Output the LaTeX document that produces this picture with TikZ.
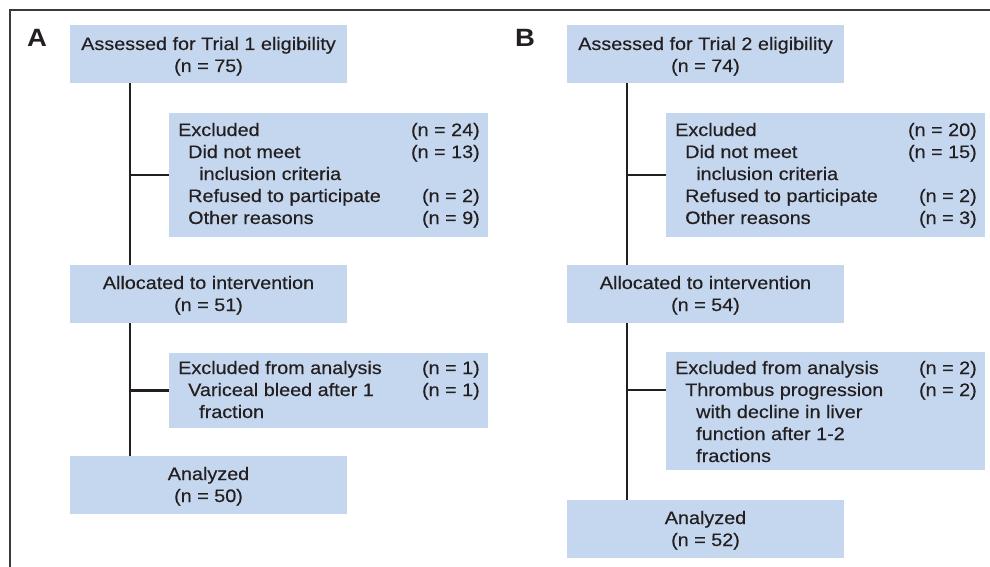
\documentclass[tikz,border=0pt]{standalone}
\usepackage{fontspec}
\setmainfont{Liberation Sans}[FakeStretch=1.1, UprightFeatures={FakeBold=0.4}]
\definecolor{boxfill}{HTML}{C5D7EE}
\definecolor{ink}{HTML}{231F20}
\definecolor{framecol}{HTML}{3A3A3A}
\begin{document}
\begin{tikzpicture}[x=1pt,y=-1pt,
  flowbox/.style={fill=boxfill, draw=none, inner sep=0pt, outer sep=0pt, anchor=north west, rectangle},
  txt/.style={text=ink, inner sep=0pt, font=\fontsize{18}{22}\selectfont},
  panellabel/.style={text=ink, inner sep=0pt, anchor=base west, font=\fontsize{25}{25}\selectfont\bfseries},
  trunkline/.style={draw=ink, line width=2.8pt},
  framestyle/.style={draw=framecol, line width=1.5pt}]
\useasboundingbox (0,0) rectangle (990,567);
\draw[framestyle] (10,567) -- (10,10) -- (990,10);

% ---------------- Panel A ----------------
\node[panellabel] (labA) at (27,47) {A};
\coordinate (tA) at (130,0);
\node[flowbox, minimum width=277pt, minimum height=58pt] (a1) at (70,25) {};
\node[flowbox, minimum width=319pt, minimum height=124pt] (a2) at (169,113) {};
\node[flowbox, minimum width=277pt, minimum height=58pt] (a3) at (70,265) {};
\node[flowbox, minimum width=319pt, minimum height=75pt] (a4) at (169,353) {};
\node[flowbox, minimum width=277pt, minimum height=58pt] (a5) at (70,456) {};

\draw[trunkline] (a1.south -| tA) -- (a3.north -| tA);
\draw[trunkline] (a3.south -| tA) -- (a5.north -| tA);
\draw[trunkline] (a2.west -| tA) -- (a2.west);
\draw[trunkline] (a4.west -| tA) -- (a4.west);

\node[txt, anchor=base] (a1l1) at (208.5,50) {Assessed for Trial 1 eligibility};
\node[txt, anchor=base] (a1l2) at (208.5,72) {(n = 75)};

\node[txt, anchor=base west] (a2l1) at (178,136) {Excluded};
\node[txt, anchor=base west] (a2l2) at (188,158) {Did not meet};
\node[txt, anchor=base west] (a2l3) at (199,180) {inclusion criteria};
\node[txt, anchor=base west] (a2l4) at (188,202) {Refused to participate};
\node[txt, anchor=base west] (a2l5) at (188,224) {Other reasons};
\node[txt, anchor=base east] (a2r1) at (480,136) {(n = 24)};
\node[txt, anchor=base east] (a2r2) at (480,158) {(n = 13)};
\node[txt, anchor=base east] (a2r4) at (480,202) {(n = 2)};
\node[txt, anchor=base east] (a2r5) at (480,224) {(n = 9)};

\node[txt, anchor=base] (a3l1) at (208.5,289) {Allocated to intervention};
\node[txt, anchor=base] (a3l2) at (208.5,311) {(n = 51)};

\node[txt, anchor=base west] (a4l1) at (178,374) {Excluded from analysis};
\node[txt, anchor=base west] (a4l2) at (188,396) {Variceal bleed after 1};
\node[txt, anchor=base west] (a4l3) at (199,418) {fraction};
\node[txt, anchor=base east] (a4r1) at (480,374) {(n = 1)};
\node[txt, anchor=base east] (a4r2) at (480,396) {(n = 1)};

\node[txt, anchor=base] (a5l1) at (208.5,480) {Analyzed};
\node[txt, anchor=base] (a5l2) at (208.5,502) {(n = 50)};

% ---------------- Panel B ----------------
\node[panellabel] (labB) at (515,47) {B};
\coordinate (tB) at (627,0);
\node[flowbox, minimum width=277pt, minimum height=58pt] (b1) at (567,25) {};
\node[flowbox, minimum width=319pt, minimum height=124pt] (b2) at (666,113) {};
\node[flowbox, minimum width=277pt, minimum height=58pt] (b3) at (567,265) {};
\node[flowbox, minimum width=319pt, minimum height=118pt] (b4) at (666,352) {};
\node[flowbox, minimum width=277pt, minimum height=58pt] (b5) at (567,500) {};
\coordinate (bj) at (627,390);

\draw[trunkline] (b1.south -| tB) -- (b3.north -| tB);
\draw[trunkline] (b3.south -| tB) -- (b5.north -| tB);
\draw[trunkline] (b2.west -| tB) -- (b2.west);
\draw[trunkline] (bj) -- (bj -| b4.west);

\node[txt, anchor=base] (b1l1) at (705.5,50) {Assessed for Trial 2 eligibility};
\node[txt, anchor=base] (b1l2) at (705.5,72) {(n = 74)};

\node[txt, anchor=base west] (b2l1) at (675,136) {Excluded};
\node[txt, anchor=base west] (b2l2) at (685,158) {Did not meet};
\node[txt, anchor=base west] (b2l3) at (696,180) {inclusion criteria};
\node[txt, anchor=base west] (b2l4) at (685,202) {Refused to participate};
\node[txt, anchor=base west] (b2l5) at (685,224) {Other reasons};
\node[txt, anchor=base east] (b2r1) at (977,136) {(n = 20)};
\node[txt, anchor=base east] (b2r2) at (977,158) {(n = 15)};
\node[txt, anchor=base east] (b2r4) at (977,202) {(n = 2)};
\node[txt, anchor=base east] (b2r5) at (977,224) {(n = 3)};

\node[txt, anchor=base] (b3l1) at (705.5,289) {Allocated to intervention};
\node[txt, anchor=base] (b3l2) at (705.5,311) {(n = 54)};

\node[txt, anchor=base west] (b4l1) at (675,374) {Excluded from analysis};
\node[txt, anchor=base west] (b4l2) at (685,396) {Thrombus progression};
\node[txt, anchor=base west] (b4l3) at (696,418) {with decline in liver};
\node[txt, anchor=base west] (b4l4) at (696,440) {function after 1-2};
\node[txt, anchor=base west] (b4l5) at (696,462) {fractions};
\node[txt, anchor=base east] (b4r1) at (977,374) {(n = 2)};
\node[txt, anchor=base east] (b4r2) at (977,396) {(n = 2)};

\node[txt, anchor=base] (b5l1) at (705.5,524) {Analyzed};
\node[txt, anchor=base] (b5l2) at (705.5,546) {(n = 52)};
\end{tikzpicture}
\end{document}
